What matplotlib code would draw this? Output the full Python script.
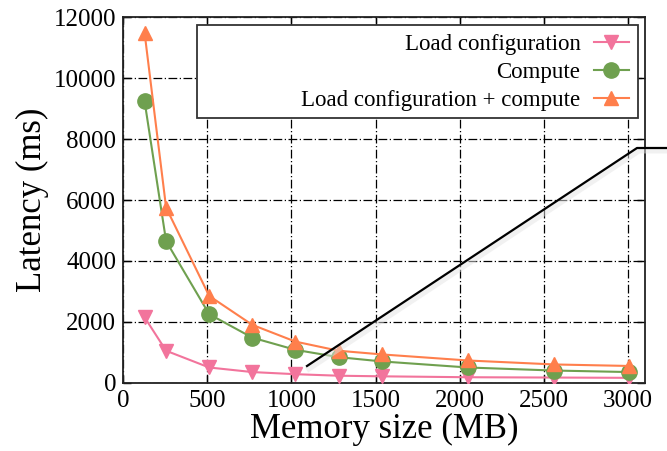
import matplotlib
matplotlib.use("Agg")
import matplotlib.pyplot as plt
from matplotlib.patches import Rectangle
from matplotlib.lines import Line2D

memory = [128, 256, 512, 768, 1024, 1280, 1536, 2048, 2560, 3008]
load_cfg = [2150, 1050, 500, 350, 280, 230, 210, 180, 170, 160]
compute = [9250, 4650, 2250, 1480, 1080, 840, 700, 500, 400, 350]
load_plus_compute = [11500, 5750, 2850, 1900, 1350, 1050, 930, 730, 600, 550]
xticks = [0, 500, 1000, 1500, 2000, 2500, 3000]
yticks = [0, 2000, 4000, 6000, 8000, 10000, 12000]

plt.rcParams['font.family'] = ['Liberation Serif', 'DejaVu Serif']

fig = plt.figure(figsize=(6.67, 4.51), dpi=100)
ax = fig.add_axes([0.1844, 0.1514, 0.967 - 0.1844, 0.9616 - 0.1514])

pink = '#f2749c'
green = '#6fa04f'
orange = '#ff7f4c'

ax.plot(memory, load_cfg, color=pink, marker='v', markersize=10, lw=1.5,
        label='Load configuration', zorder=3)
ax.plot(memory, compute, color=green, marker='o', markersize=11, lw=1.5,
        label='Compute', zorder=3)
ax.plot(memory, load_plus_compute, color=orange, marker='^', markersize=10, lw=1.5,
        label='Load configuration + compute', zorder=3)

ax.set_xlim(0, 3100)
ax.set_ylim(0, 12000)
ax.set_xticks(xticks)
ax.set_yticks(yticks)
ax.grid(True, color='black', linestyle=(0, (7, 2, 1, 2)), linewidth=0.9, zorder=0)
ax.set_axisbelow(True)
ax.tick_params(direction='in', length=6, width=1, top=True, right=True,
               labelsize=18, pad=5)
for s in ax.spines.values():
    s.set_linewidth(1.3)
    s.set_color('#222222')

ax.set_xlabel('Memory size (MB)', fontsize=25, labelpad=1)
ax.set_ylabel('Latency (ms)', fontsize=25, labelpad=3)

rect = Rectangle((0.1418, 0.7244), 0.986 - 0.1418, 0.979 - 0.7244,
                 transform=ax.transAxes, facecolor='white', edgecolor='#333333',
                 linewidth=1.3, zorder=4)
ax.add_patch(rect)
leg = ax.legend(loc='upper right', bbox_to_anchor=(0.986, 0.979), frameon=False,
                markerfirst=False, fontsize=16.5, handlelength=1.5, handletextpad=0.6,
                labelspacing=0.3, borderpad=0.4, borderaxespad=0)
leg.set_zorder(5)

# zoom connector line overlay
W, H = 667.0, 451.0
pts_x = [307 / W, 637 / W, 1.0]
pts_y = [1 - 366 / H, 1 - 148 / H, 1 - 148 / H]
fig.add_artist(Line2D([x + 0.003 for x in pts_x], [y - 0.006 for y in pts_y],
                      transform=fig.transFigure, color='#e4e4e4', lw=4, alpha=0.5, zorder=9))
fig.add_artist(Line2D(pts_x, pts_y, transform=fig.transFigure, color='black',
                      lw=1.6, zorder=10))

fig.savefig('out.png', dpi=100)
